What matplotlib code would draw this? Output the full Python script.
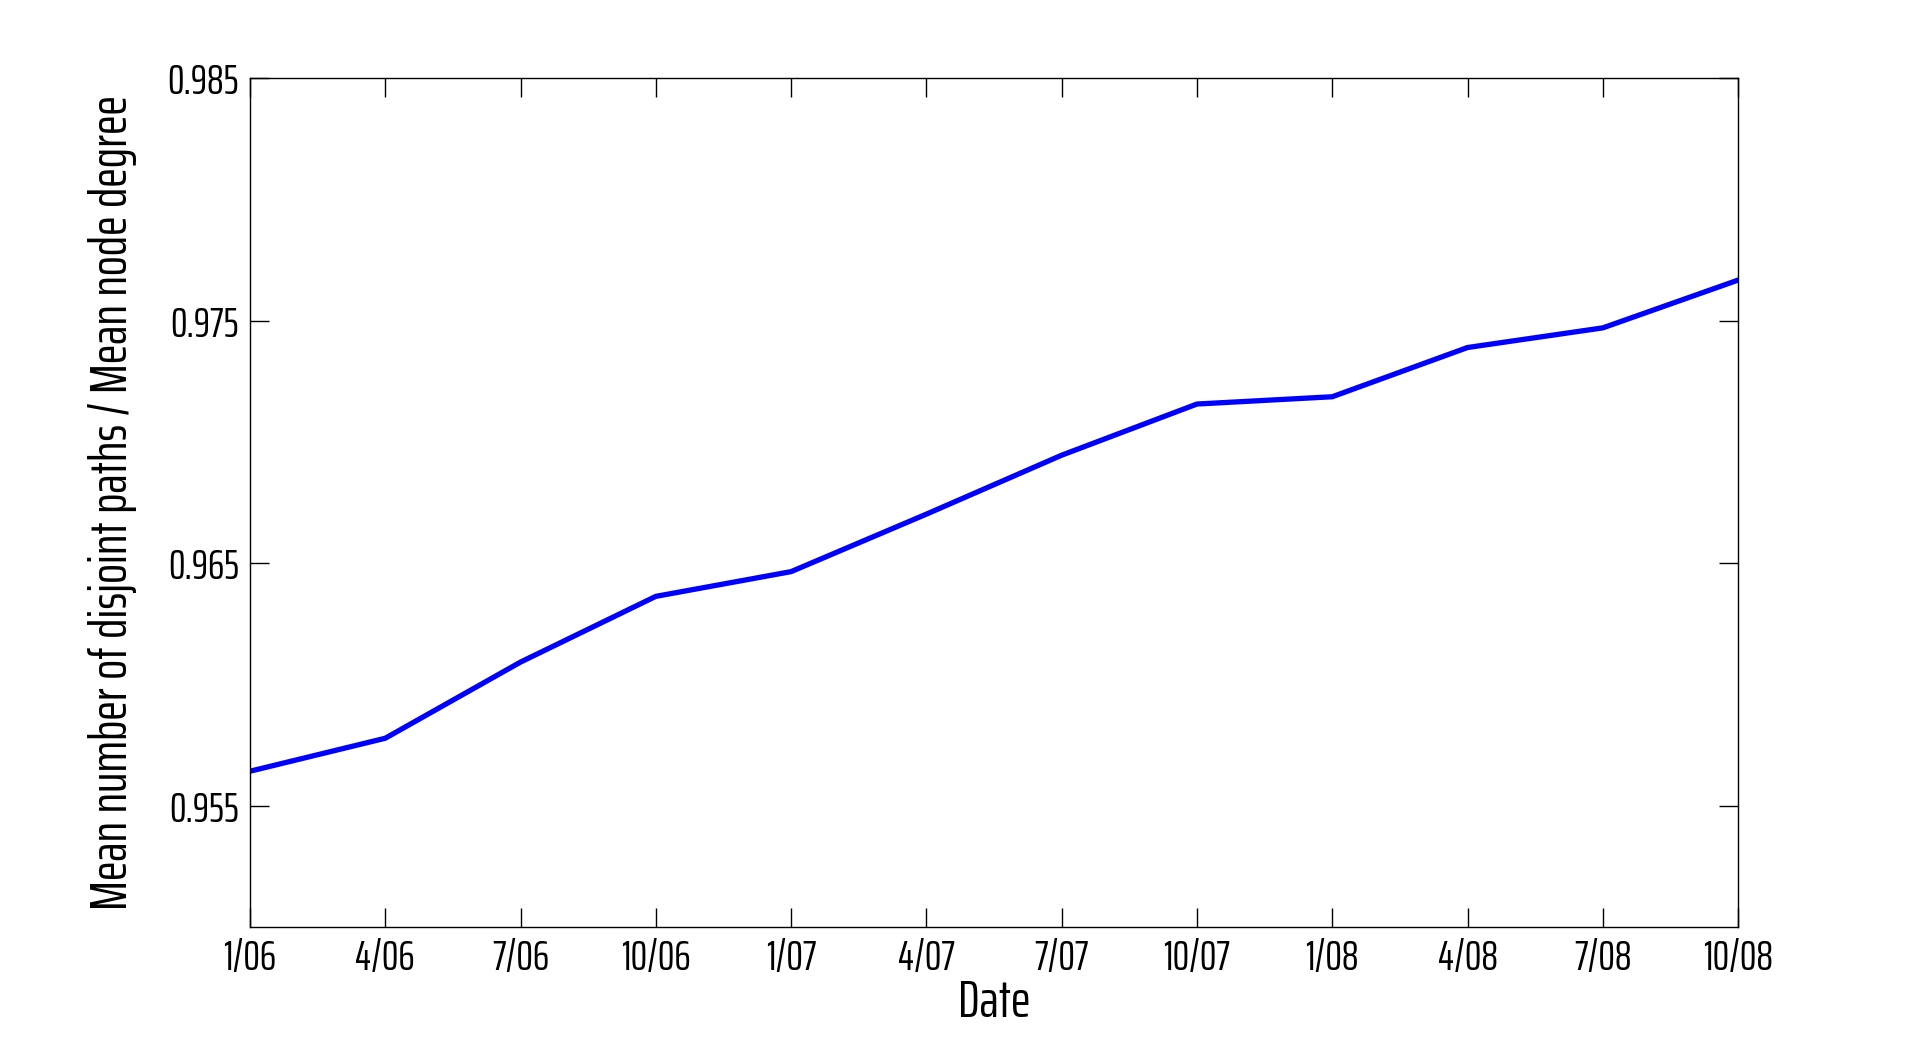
import matplotlib
matplotlib.use("Agg")
import matplotlib.pyplot as plt

# quarterly dates and the ratio
dates = ["1/06", "4/06", "7/06", "10/06", "1/07", "4/07",
         "7/07", "10/07", "1/08", "4/08", "7/08", "10/08"]
ratio = [0.95642, 0.95778, 0.96092, 0.96363, 0.96465, 0.96702,
         0.96945, 0.97156, 0.97186, 0.97389, 0.97470, 0.97667]
yticks = [0.955, 0.965, 0.975, 0.985]

plt.rcParams['font.family'] = ['Saira ExtraCondensed', 'DejaVu Sans']

fig = plt.figure(figsize=(19.21, 10.42), dpi=100)
ax = fig.add_axes([0.1301, 0.1104, 0.9048 - 0.1301, 0.9251 - 0.1104])

x = list(range(len(dates)))
ax.plot(x, ratio, color='#0000ff', linewidth=3.8, solid_joinstyle='round')

ax.set_xlim(0, len(dates) - 1)
ax.set_ylim(0.950, 0.985)
ax.set_xticks(x)
ax.set_xticklabels(dates)
ax.set_yticks(yticks)
ax.set_yticklabels([f"{v:.3f}" for v in yticks])

ax.tick_params(direction='in', length=14, width=1, top=True, right=True,
               labelsize=30, pad=8)
for s in ax.spines.values():
    s.set_linewidth(1.0)

ax.set_xlabel('Date', fontsize=38, labelpad=0)
ax.set_ylabel('Mean number of disjoint paths / Mean node degree', fontsize=38, labelpad=22)

fig.savefig('out.png', dpi=100)
